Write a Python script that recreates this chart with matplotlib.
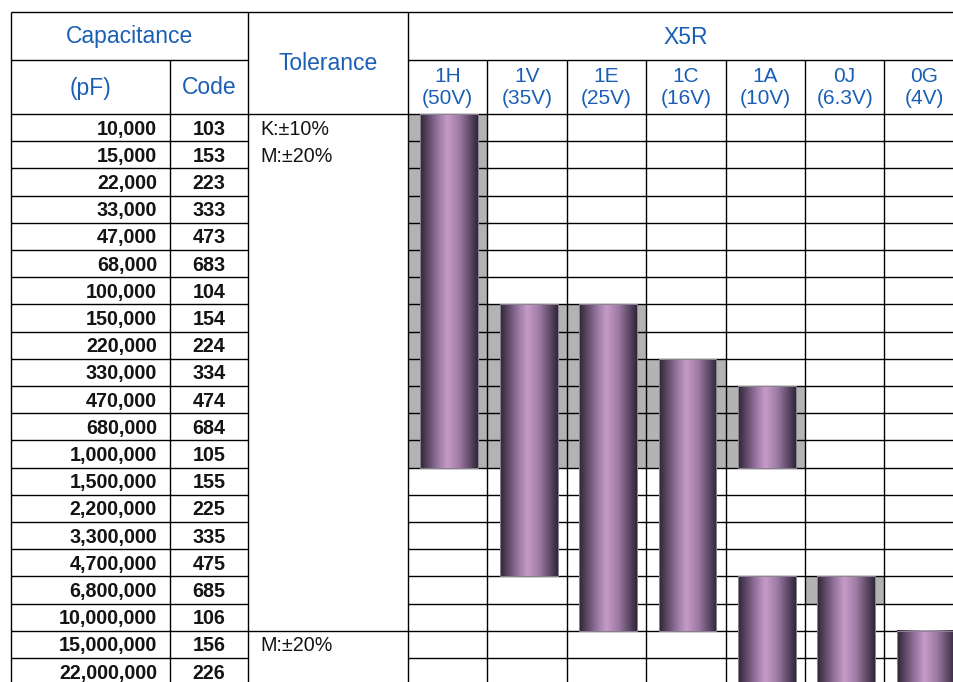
import matplotlib.pyplot as plt
import numpy as np
from matplotlib.colors import LinearSegmentedColormap
from matplotlib.patches import Rectangle

# table data
capacitance = [10000, 15000, 22000, 33000, 47000, 68000, 100000, 150000,
               220000, 330000, 470000, 680000, 1000000, 1500000, 2200000,
               3300000, 4700000, 6800000, 10000000, 15000000, 22000000]
codes = ["103", "153", "223", "333", "473", "683", "104", "154", "224", "334",
         "474", "684", "105", "155", "225", "335", "475", "685", "106", "156", "226"]
voltage_codes = ["1H", "1V", "1E", "1C", "1A", "0J", "0G"]
voltage_labels = ["(50V)", "(35V)", "(25V)", "(16V)", "(10V)", "(6.3V)", "(4V)"]

# available ranges per voltage (first code, last code)
bar_ranges = {
    "1H": [("103", "105")],
    "1V": [("154", "475")],
    "1E": [("154", "106")],
    "1C": [("334", "106")],
    "1A": [("474", "105"), ("685", "226")],
    "0J": [("685", "226")],
    "0G": [("156", "226")],
}
gray_ranges = {
    "1H": [("103", "105")],
    "1V": [("154", "105")],
    "1E": [("154", "105")],
    "1C": [("334", "105")],
    "1A": [("474", "105")],
    "0J": [("685", "685")],
    "0G": [],
}
tolerance_groups = [("103", ["K:±10%", "M:±20%"]), ("156", ["M:±20%"])]

# layout (pixels)
X_LEFT, X_CAP, X_CODE, X_TOL = 11, 170, 248, 408
COL_W = 79.4
Y_TOP, Y_H1, Y_H2, ROW_H = 12, 60, 114, 27.2
X_RIGHT = X_TOL + COL_W * len(voltage_codes)
Y_BOT = Y_H2 + ROW_H * len(codes)

blue = "#1a5fb4"
gray = "#b3b3b3"
ink = "#141414"
lw = 1.0

plt.rcParams.update({"font.family": ["Liberation Sans", "DejaVu Sans"]})

fig = plt.figure(figsize=(9.54, 6.82), dpi=100)
ax = fig.add_axes([0, 0, 1, 1])
ax.axis("off")

cyl = LinearSegmentedColormap.from_list(
    "cyl",
    [(0.0, "#2e2434"), (0.12, "#574360"), (0.3, "#94739c"), (0.47, "#c79bc8"),
     (0.68, "#9e7ba4"), (0.87, "#5c4865"), (1.0, "#30263a")],
)
grad = np.linspace(0, 1, 256).reshape(1, -1)


def row_top(code):
    return Y_H2 + codes.index(code) * ROW_H


def row_bot(code):
    return Y_H2 + (codes.index(code) + 1) * ROW_H


# gray cells and bars
for i, vc in enumerate(voltage_codes):
    x0 = X_TOL + i * COL_W
    for a, b in gray_ranges[vc]:
        ax.add_patch(Rectangle((x0, row_top(a)), COL_W, row_bot(b) - row_top(a),
                               facecolor=gray, edgecolor="none", zorder=1))
    bx0 = x0 + 0.155 * COL_W
    bx1 = x0 + 0.885 * COL_W
    for a, b in bar_ranges[vc]:
        y0, y1 = row_top(a), row_bot(b)
        ax.imshow(grad, cmap=cyl, extent=[bx0, bx1, y1, y0], aspect="auto",
                  interpolation="bicubic", zorder=3)
        ax.add_patch(Rectangle((bx0, y0), bx1 - bx0, y1 - y0, facecolor="none",
                               edgecolor="#8a8490", linewidth=0.7, zorder=4))
ax.set_xlim(0, 954)
ax.set_ylim(682, 0)

# grid lines
ax.hlines(Y_TOP, X_LEFT, X_RIGHT, color="black", lw=lw, zorder=2)
ax.hlines(Y_H1, X_LEFT, X_CODE, color="black", lw=lw, zorder=2)
ax.hlines(Y_H1, X_TOL, X_RIGHT, color="black", lw=lw, zorder=2)
ax.hlines(Y_H2, X_LEFT, X_RIGHT, color="black", lw=lw, zorder=2)
for k in range(1, len(codes) + 1):
    y = Y_H2 + k * ROW_H
    ax.hlines(y, X_LEFT, X_CODE, color="black", lw=lw, zorder=2)
    ax.hlines(y, X_TOL, X_RIGHT, color="black", lw=lw, zorder=2)
for start, _ in tolerance_groups[1:]:
    ax.hlines(row_top(start), X_CODE, X_TOL, color="black", lw=lw, zorder=2)
ax.vlines([X_LEFT, X_CODE, X_TOL], Y_TOP, Y_BOT, color="black", lw=lw, zorder=2)
ax.vlines(X_CAP, Y_H1, Y_BOT, color="black", lw=lw, zorder=2)
ax.vlines([X_TOL + i * COL_W for i in range(1, len(voltage_codes) + 1)],
          Y_H1, Y_BOT, color="black", lw=lw, zorder=2)

# header text
ax.text((X_LEFT + X_CODE) / 2, (Y_TOP + Y_H1) / 2 + 1, "Capacitance", color=blue,
        fontsize=16.5, ha="center", va="center")
ax.text((X_LEFT + X_CAP) / 2, (Y_H1 + Y_H2) / 2 + 1, "(pF)", color=blue,
        fontsize=16.5, ha="center", va="center")
ax.text((X_CAP + X_CODE) / 2, (Y_H1 + Y_H2) / 2 + 1, "Code", color=blue,
        fontsize=16.5, ha="center", va="center")
ax.text((X_CODE + X_TOL) / 2, (Y_TOP + Y_H2) / 2 + 1, "Tolerance", color=blue,
        fontsize=16.5, ha="center", va="center")
ax.text((X_TOL + X_RIGHT) / 2, (Y_TOP + Y_H1) / 2 + 1, "X5R", color=blue,
        fontsize=16.5, ha="center", va="center")
for i, (vc, vl) in enumerate(zip(voltage_codes, voltage_labels)):
    xc = X_TOL + (i + 0.5) * COL_W
    ax.text(xc, 76, vc, color=blue, fontsize=15, ha="center", va="center")
    ax.text(xc, 98, vl, color=blue, fontsize=15, ha="center", va="center")

# body text
for k, (cap, code) in enumerate(zip(capacitance, codes)):
    yc = Y_H2 + (k + 0.5) * ROW_H + 1.5
    ax.text(X_CAP - 13, yc, f"{cap:,}", fontsize=14.2, fontweight="bold",
            color=ink, ha="right", va="center")
    ax.text((X_CAP + X_CODE) / 2, yc, code, fontsize=14.2, fontweight="bold",
            color=ink, ha="center", va="center")
for start, lines in tolerance_groups:
    for j, line in enumerate(lines):
        yc = row_top(start) + (j + 0.5) * ROW_H + 1.5
        ax.text(X_CODE + 12, yc, line, fontsize=14.2, color=ink,
                ha="left", va="center")

fig.savefig("out.png", dpi=100)
